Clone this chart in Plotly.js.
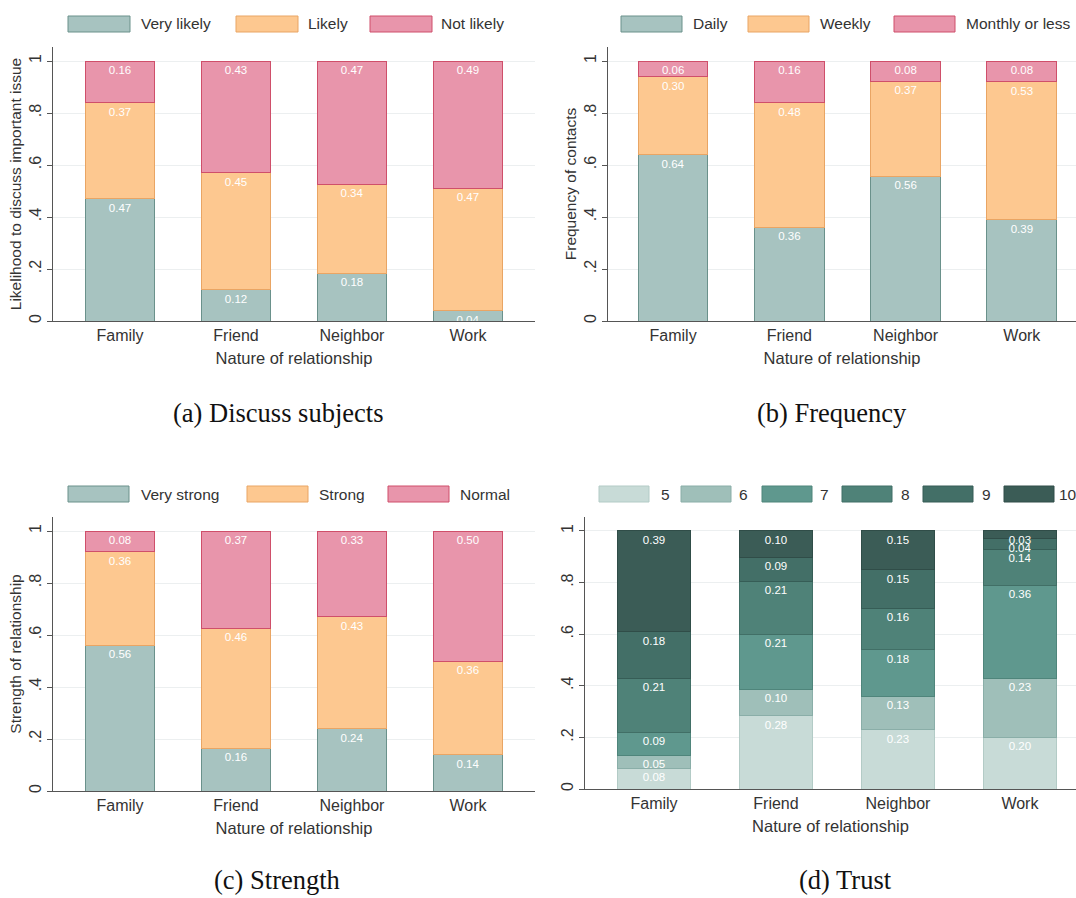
<!DOCTYPE html>
<html><head><meta charset="utf-8">
<script src="https://cdn.plot.ly/plotly-3.0.1.min.js"></script>
<style>html,body{margin:0;padding:0;background:#fff}#chart{width:1076px;height:898px}</style>
</head><body><div id="chart"></div>
<script>
// ---------- DATA ----------
const categories = ['Family', 'Friend', 'Neighbor', 'Work'];

// (a) Discuss subjects
const discussSeries = ['Very likely', 'Likely', 'Not likely'];
const discussVeryLikely = [0.47, 0.12, 0.183, 0.04];
const discussLikely     = [0.37, 0.45, 0.344, 0.47];
const discussNotLikely  = [0.16, 0.43, 0.473, 0.49];

// (b) Frequency
const freqSeries = ['Daily', 'Weekly', 'Monthly or less'];
const freqDaily   = [0.64, 0.36, 0.556, 0.39];
const freqWeekly  = [0.30, 0.48, 0.366, 0.53];
const freqMonthly = [0.06, 0.16, 0.078, 0.08];

// (c) Strength
const strengthSeries = ['Very strong', 'Strong', 'Normal'];
const strengthVeryStrong = [0.56, 0.164, 0.24, 0.14];
const strengthStrong     = [0.36, 0.462, 0.43, 0.36];
const strengthNormal     = [0.08, 0.374, 0.33, 0.50];

// (d) Trust
const trustSeries = ['5', '6', '7', '8', '9', '10'];
const trust5  = [0.08, 0.283, 0.23, 0.20];
const trust6  = [0.05, 0.104, 0.13, 0.23];
const trust7  = [0.09, 0.212, 0.18, 0.36];
const trust8  = [0.21, 0.207, 0.16, 0.14];
const trust9  = [0.18, 0.093, 0.15, 0.04];
const trust10 = [0.39, 0.101, 0.15, 0.03];

const xTitle = 'Nature of relationship';
const yTitleA = 'Likelihood to discuss important issue';
const yTitleB = 'Frequency of contacts';
const yTitleC = 'Strength of relationship';
const captions = ['(a) Discuss subjects', '(b) Frequency', '(c) Strength', '(d) Trust'];
const yTickVals = [0, 0.2, 0.4, 0.6, 0.8, 1];
const yTickText = ['0', '.2', '.4', '.6', '.8', '1'];

// ---------- STYLE ----------
const W = 1076, H = 898;
const px = v => v / W;
const py = v => 1 - v / H;
const sans = 'Liberation Sans, Arial, sans-serif';

const threeFill = ['#a7c3c0', '#fdc890', '#e895ab'];
const threeLine = ['#6a918b', '#e9a564', '#cf4f6a'];
const trustFill = ['#c8dbd7', '#9fbfb9', '#5f988e', '#4f8278', '#436f67', '#3b5c56'];
const trustLine = ['#b3cbc6', '#8aaea8', '#4f857b', '#416f66', '#365d56', '#304d48'];

function bar(name, y, xa, ya, fill, line) {
  return {
    type: 'bar', name: name, x: categories, y: y, xaxis: xa, yaxis: ya,
    width: 0.6,
    marker: {color: fill, line: {color: line, width: 1}},
    texttemplate: '%{y:.2f}', textposition: 'inside', insidetextanchor: 'end',
    textangle: 0, constraintext: 'none',
    textfont: {color: '#ffffff', size: 11.5, family: sans},
    showlegend: false, hovertemplate: name + ': %{y:.2f}<extra></extra>'
  };
}

const traces = [];
[discussVeryLikely, discussLikely, discussNotLikely].forEach((d, i) =>
  traces.push(bar(discussSeries[i], d, 'x', 'y', threeFill[i], threeLine[i])));
[freqDaily, freqWeekly, freqMonthly].forEach((d, i) =>
  traces.push(bar(freqSeries[i], d, 'x2', 'y2', threeFill[i], threeLine[i])));
[strengthVeryStrong, strengthStrong, strengthNormal].forEach((d, i) =>
  traces.push(bar(strengthSeries[i], d, 'x3', 'y3', threeFill[i], threeLine[i])));
[trust5, trust6, trust7, trust8, trust9, trust10].forEach((d, i) =>
  traces.push(bar(trustSeries[i], d, 'x4', 'y4', trustFill[i], trustLine[i])));

function xAxis(domPx, range, anchor) {
  return {
    domain: [px(domPx[0]), px(domPx[1])], range: range, anchor: anchor,
    type: 'category', showline: true, linecolor: '#555', linewidth: 1,
    ticks: '', showgrid: false, zeroline: false,
    tickfont: {family: sans, size: 16, color: '#333'},
    title: {text: xTitle, font: {family: sans, size: 16.5, color: '#333'}, standoff: 9}
  };
}
function yAxis(zeroPx, topPx, anchor, title) {
  return {
    domain: [py(zeroPx), py(topPx)], range: [0, 1.054], anchor: anchor,
    tickvals: yTickVals, ticktext: yTickText, tickangle: -90,
    ticks: 'outside', ticklen: 5, tickcolor: '#555',
    showline: true, linecolor: '#555', linewidth: 1,
    showgrid: true, gridcolor: '#eceff0', gridwidth: 1, zeroline: false,
    tickfont: {family: sans, size: 16, color: '#333'},
    title: {text: title, font: {family: sans, size: 15.5, color: '#333'}, standoff: 1}
  };
}

// legends drawn as wide swatches + real text
const shapes = [], annotations = [];
function legend(names, fills, lines, swatchX, swatchW, textX, yTop) {
  names.forEach((n, i) => {
    shapes.push({type: 'rect', xref: 'paper', yref: 'paper',
      x0: px(swatchX[i]), x1: px(swatchX[i] + swatchW), y0: py(yTop + 16), y1: py(yTop),
      fillcolor: fills[i], line: {color: lines[i], width: 1}});
    annotations.push({xref: 'paper', yref: 'paper', x: px(textX[i]), y: py(yTop + 8),
      xanchor: 'left', yanchor: 'middle', showarrow: false, text: n,
      font: {family: sans, size: 15.5, color: '#333'}});
  });
}
legend(discussSeries, threeFill, threeLine, [68, 236, 370], 62, [139, 306, 439], 16);
legend(freqSeries, threeFill, threeLine, [621, 748, 894], 61, [691, 818, 964], 16);
legend(strengthSeries, threeFill, threeLine, [68, 247, 388], 61, [139, 317, 458], 486);
legend(trustSeries, trustFill, trustLine, [599, 681, 762, 842, 923, 1004], 50, [659, 737, 818, 899, 980, 1057], 486);

const capPos = [[278, 413], [832, 413], [277, 880], [845, 880]];
captions.forEach((c, i) => annotations.push({xref: 'paper', yref: 'paper',
  x: px(capPos[i][0]), y: py(capPos[i][1]), xanchor: 'center', yanchor: 'middle',
  showarrow: false, text: c, font: {family: 'Liberation Serif, Times New Roman, serif', size: 26.5, color: '#111'}}));

const layout = {
  width: W, height: H, margin: {l: 0, r: 0, t: 0, b: 0},
  paper_bgcolor: '#ffffff', plot_bgcolor: '#ffffff',
  barmode: 'stack', showlegend: false,
  uniformtext: {mode: 'show', minsize: 11.5},
  xaxis:  xAxis([53, 535], [-0.578, 3.578], 'y'),
  yaxis:  yAxis(321, 47, 'x', yTitleA),
  xaxis2: xAxis([608, 1076], [-0.56, 3.466], 'y2'),
  yaxis2: yAxis(321, 47, 'x2', yTitleB),
  xaxis3: xAxis([53, 535], [-0.578, 3.578], 'y3'),
  yaxis3: yAxis(791, 517, 'x3', yTitleC),
  xaxis4: xAxis([585, 1076], [-0.566, 3.46], 'y4'),
  yaxis4: yAxis(789, 517, 'x4', ''),
  shapes: shapes, annotations: annotations
};

Plotly.newPlot('chart', traces, layout, {displayModeBar: false, staticPlot: true});
</script>
</body></html>
